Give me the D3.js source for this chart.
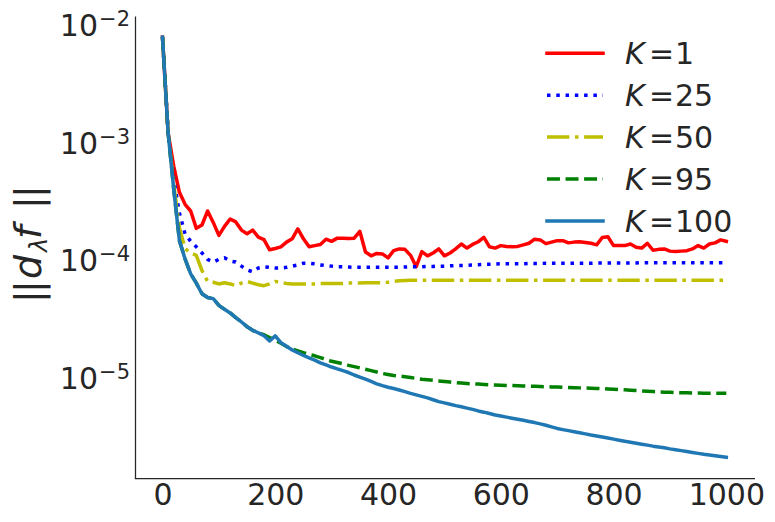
<!DOCTYPE html>
<html>
<head>
<meta charset="utf-8">
<script src="https://cdn.jsdelivr.net/npm/d3@7"></script>
<style>
  body { margin: 0; background: #fff; }
  svg { display: block; font-family: 'DejaVu Sans', sans-serif; }
</style>
</head>
<body>
<div id="chart"></div>
<script>
// iteration index (x)
const iterations = [
  0, 10, 20, 30, 40, 50, 60, 70, 80, 90,
  100, 110, 120, 130, 140, 150, 160, 170, 180, 190,
  200, 210, 220, 230, 240, 250, 260, 270, 280, 290,
  300, 310, 320, 330, 340, 350, 360, 370, 380, 390,
  400, 410, 420, 430, 440, 450, 460, 470, 480, 490,
  500, 510, 520, 530, 540, 550, 560, 570, 580, 590,
  600, 610, 620, 630, 640, 650, 660, 670, 680, 690,
  700, 710, 720, 730, 740, 750, 760, 770, 780, 790,
  800, 810, 820, 830, 840, 850, 860, 870, 880, 890,
  900, 910, 920, 930, 940, 950, 960, 970, 980, 990,
  1000
];

// ||d_lambda f|| per K
const normK1 = [
  7.5e-3, 1.15e-3, 6.0e-4, 3.6e-4, 2.85e-4, 2.5e-4, 1.78e-4, 1.9e-4, 2.5e-4, 2.0e-4,
  1.55e-4, 1.85e-4, 2.14e-4, 2.02e-4, 1.72e-4, 1.6e-4, 1.72e-4, 1.5e-4, 1.43e-4, 1.17e-4,
  1.2e-4, 1.24e-4, 1.36e-4, 1.45e-4, 1.76e-4, 1.45e-4, 1.24e-4, 1.27e-4, 1.3e-4, 1.44e-4,
  1.38e-4, 1.47e-4, 1.47e-4, 1.46e-4, 1.47e-4, 1.68e-4, 1.12e-4, 1.04e-4, 1.09e-4, 1.08e-4,
  1.0e-4, 1.15e-4, 1.19e-4, 1.18e-4, 1.05e-4, 8.4e-5, 1.13e-4, 1.04e-4, 1.1e-4, 1.19e-4,
  1.04e-4, 1.1e-4, 1.19e-4, 1.31e-4, 1.21e-4, 1.3e-4, 1.37e-4, 1.49e-4, 1.24e-4, 1.21e-4,
  1.27e-4, 1.25e-4, 1.24e-4, 1.25e-4, 1.29e-4, 1.33e-4, 1.44e-4, 1.42e-4, 1.32e-4, 1.36e-4,
  1.4e-4, 1.4e-4, 1.34e-4, 1.36e-4, 1.37e-4, 1.35e-4, 1.33e-4, 1.29e-4, 1.49e-4, 1.51e-4,
  1.27e-4, 1.27e-4, 1.27e-4, 1.31e-4, 1.23e-4, 1.21e-4, 1.33e-4, 1.16e-4, 1.18e-4, 1.19e-4,
  1.14e-4, 1.13e-4, 1.14e-4, 1.15e-4, 1.19e-4, 1.27e-4, 1.21e-4, 1.31e-4, 1.34e-4, 1.42e-4,
  1.38e-4
];
const normK25 = [
  7.5e-3, 1.15e-3, 4.6e-4, 2.4e-4, 1.6e-4, 1.38e-4, 1.24e-4, 1.1e-4, 9.7e-5, 9.2e-5,
  9.7e-5, 1.0e-4, 9.4e-5, 9.2e-5, 8.5e-5, 7.9e-5, 7.6e-5, 8.2e-5, 8.4e-5, 8.3e-5,
  8.2e-5, 8.2e-5, 8.3e-5, 8.5e-5, 8.7e-5, 9.0e-5, 9.0e-5, 8.9e-5, 8.7e-5, 8.6e-5,
  8.5e-5, 8.4e-5, 8.4e-5, 8.35e-5, 8.3e-5, 8.3e-5, 8.3e-5, 8.3e-5, 8.3e-5, 8.3e-5,
  8.3e-5, 8.3e-5, 8.3e-5, 8.35e-5, 8.4e-5, 8.4e-5, 8.4e-5, 8.45e-5, 8.45e-5, 8.5e-5,
  8.5e-5, 8.55e-5, 8.6e-5, 8.6e-5, 8.65e-5, 8.7e-5, 8.75e-5, 8.8e-5, 8.8e-5, 8.85e-5,
  8.9e-5, 8.9e-5, 8.9e-5, 8.9e-5, 8.9e-5, 8.95e-5, 8.95e-5, 8.95e-5, 9.0e-5, 9.0e-5,
  9.0e-5, 9.0e-5, 9.0e-5, 9.0e-5, 9.0e-5, 9.0e-5, 9.0e-5, 9.05e-5, 9.05e-5, 9.05e-5,
  9.05e-5, 9.05e-5, 9.05e-5, 9.05e-5, 9.05e-5, 9.1e-5, 9.1e-5, 9.1e-5, 9.1e-5, 9.1e-5,
  9.1e-5, 9.1e-5, 9.1e-5, 9.1e-5, 9.1e-5, 9.1e-5, 9.1e-5, 9.1e-5, 9.1e-5, 9.1e-5,
  9.1e-5
];
const normK50 = [
  7.5e-3, 1.15e-3, 4.2e-4, 1.8e-4, 1.2e-4, 1.1e-4, 1.05e-4, 7.8e-5, 6.3e-5, 6.2e-5,
  6.0e-5, 6.15e-5, 6.0e-5, 5.8e-5, 6.1e-5, 6.3e-5, 6.1e-5, 5.9e-5, 5.8e-5, 6.0e-5,
  6.3e-5, 6.2e-5, 6.05e-5, 6.0e-5, 6.0e-5, 6.0e-5, 6.0e-5, 6.0e-5, 6.05e-5, 6.05e-5,
  6.05e-5, 6.05e-5, 6.05e-5, 6.1e-5, 6.1e-5, 6.1e-5, 6.15e-5, 6.15e-5, 6.15e-5, 6.15e-5,
  6.2e-5, 6.3e-5, 6.38e-5, 6.42e-5, 6.45e-5, 6.45e-5, 6.45e-5, 6.45e-5, 6.45e-5, 6.45e-5,
  6.45e-5, 6.45e-5, 6.45e-5, 6.45e-5, 6.45e-5, 6.45e-5, 6.45e-5, 6.45e-5, 6.45e-5, 6.45e-5,
  6.45e-5, 6.45e-5, 6.45e-5, 6.45e-5, 6.45e-5, 6.45e-5, 6.45e-5, 6.45e-5, 6.45e-5, 6.45e-5,
  6.45e-5, 6.45e-5, 6.45e-5, 6.45e-5, 6.45e-5, 6.45e-5, 6.45e-5, 6.45e-5, 6.45e-5, 6.45e-5,
  6.45e-5, 6.45e-5, 6.45e-5, 6.45e-5, 6.45e-5, 6.45e-5, 6.45e-5, 6.45e-5, 6.45e-5, 6.45e-5,
  6.45e-5, 6.45e-5, 6.45e-5, 6.45e-5, 6.45e-5, 6.45e-5, 6.45e-5, 6.45e-5, 6.45e-5, 6.45e-5,
  6.45e-5
];
const normK95 = [
  7.5e-3, 1.15e-3, 3.8e-4, 1.4e-4, 9.8e-5, 7.3e-5, 6.1e-5, 4.95e-5, 4.6e-5, 4.5e-5,
  3.95e-5, 3.65e-5, 3.4e-5, 3.1e-5, 2.85e-5, 2.6e-5, 2.42e-5, 2.3e-5, 2.22e-5, 2.1e-5,
  2.0e-5, 1.88e-5, 1.76e-5, 1.68e-5, 1.62e-5, 1.56e-5, 1.51e-5, 1.47e-5, 1.42e-5, 1.37e-5,
  1.32e-5, 1.29e-5, 1.26e-5, 1.22e-5, 1.19e-5, 1.16e-5, 1.13e-5, 1.1e-5, 1.07e-5, 1.04e-5,
  1.02e-5, 1.0e-5, 9.9e-6, 9.75e-6, 9.6e-6, 9.45e-6, 9.3e-6, 9.2e-6, 9.1e-6, 9.0e-6,
  8.9e-6, 8.8e-6, 8.7e-6, 8.62e-6, 8.55e-6, 8.5e-6, 8.45e-6, 8.4e-6, 8.35e-6, 8.3e-6,
  8.27e-6, 8.24e-6, 8.21e-6, 8.18e-6, 8.15e-6, 8.12e-6, 8.09e-6, 8.06e-6, 8.03e-6, 8.0e-6,
  7.97e-6, 7.94e-6, 7.91e-6, 7.88e-6, 7.85e-6, 7.82e-6, 7.79e-6, 7.76e-6, 7.72e-6, 7.68e-6,
  7.64e-6, 7.6e-6, 7.55e-6, 7.5e-6, 7.45e-6, 7.4e-6, 7.35e-6, 7.3e-6, 7.26e-6, 7.22e-6,
  7.19e-6, 7.16e-6, 7.14e-6, 7.12e-6, 7.1e-6, 7.09e-6, 7.08e-6, 7.07e-6, 7.06e-6, 7.06e-6,
  7.05e-6
];
const normK100 = [
  7.5e-3, 1.15e-3, 3.8e-4, 1.4e-4, 9.8e-5, 7.3e-5, 6.1e-5, 4.95e-5, 4.6e-5, 4.5e-5,
  3.95e-5, 3.65e-5, 3.4e-5, 3.1e-5, 2.85e-5, 2.6e-5, 2.42e-5, 2.3e-5, 2.18e-5, 1.97e-5,
  2.17e-5, 1.9e-5, 1.77e-5, 1.65e-5, 1.56e-5, 1.48e-5, 1.41e-5, 1.35e-5, 1.28e-5, 1.23e-5,
  1.18e-5, 1.14e-5, 1.1e-5, 1.06e-5, 1.01e-5, 9.7e-6, 9.3e-6, 8.9e-6, 8.5e-6, 8.2e-6,
  7.95e-6, 7.75e-6, 7.53e-6, 7.3e-6, 7.05e-6, 6.85e-6, 6.65e-6, 6.45e-6, 6.22e-6, 6.0e-6,
  5.85e-6, 5.7e-6, 5.55e-6, 5.42e-6, 5.28e-6, 5.15e-6, 5.0e-6, 4.88e-6, 4.75e-6, 4.62e-6,
  4.52e-6, 4.43e-6, 4.34e-6, 4.25e-6, 4.16e-6, 4.07e-6, 3.98e-6, 3.88e-6, 3.78e-6, 3.66e-6,
  3.55e-6, 3.47e-6, 3.4e-6, 3.33e-6, 3.26e-6, 3.19e-6, 3.12e-6, 3.06e-6, 3.0e-6, 2.94e-6,
  2.88e-6, 2.82e-6, 2.76e-6, 2.71e-6, 2.66e-6, 2.61e-6, 2.56e-6, 2.51e-6, 2.47e-6, 2.43e-6,
  2.38e-6, 2.34e-6, 2.3e-6, 2.26e-6, 2.22e-6, 2.18e-6, 2.14e-6, 2.11e-6, 2.08e-6, 2.05e-6,
  2.02e-6
];

const kLabels = ['1', '25', '50', '95', '100'];
const xTicks = [0, 200, 400, 600, 800, 1000];
const yTickExps = [-2, -3, -4, -5];

// line styles (matplotlib 'r-', 'b:', 'y-.', 'g--', C0 '-')
const lw = 3.5;
const styles = [
  { color: '#ff0000', dash: null },
  { color: '#0000ff', dash: [1 * lw, 1.65 * lw] },
  { color: '#bfbf00', dash: [6.4 * lw, 1.6 * lw, 1 * lw, 1.6 * lw] },
  { color: '#008000', dash: [3.7 * lw, 1.6 * lw] },
  { color: '#1f77b4', dash: null },
];
const seriesValues = [normK1, normK25, normK50, normK95, normK100];

const width = 775;
const height = 522;
const textColor = '#262626';

function drawChart() {
  const svg = d3.select('#chart').append('svg').attr('width', width).attr('height', height);

  const x = d3.scaleLinear().domain([-50, 1050]).range([134.3, 754.5]);
  const y = d3.scaleLog().domain([Math.pow(10, -5.871), Math.pow(10, -1.945)]).range([478, 16]);

  // lines
  const line = d3
    .line()
    .x((d) => x(d[0]))
    .y((d) => y(d[1]));

  const plot = svg.append('g');
  seriesValues.forEach((vals, i) => {
    const st = styles[i];
    plot
      .append('path')
      .datum(iterations.map((it, j) => [it, vals[j]]))
      .attr('d', line)
      .attr('fill', 'none')
      .attr('stroke', st.color)
      .attr('stroke-width', lw)
      .attr('stroke-linejoin', 'round')
      .attr('stroke-linecap', st.dash ? 'butt' : 'square')
      .attr('stroke-dasharray', st.dash ? st.dash.join(',') : null);
  });

  // x axis
  const xAxis = svg
    .append('g')
    .attr('transform', `translate(0,${478})`)
    .call(d3.axisBottom(x).tickValues(xTicks).tickFormat(d3.format('d')).tickSize(0).tickSizeOuter(0));
  xAxis.select('.domain').attr('stroke', textColor).attr('stroke-width', 1.25);
  xAxis
    .selectAll('text')
    .attr('y', 27)
    .attr('dy', null)
    .attr('fill', textColor)
    .style('font-size', '30px')
    .style('font-family', "'DejaVu Sans', sans-serif");

  // y axis
  const yAxis = svg
    .append('g')
    .attr('transform', `translate(${135},0)`)
    .call(
      d3
        .axisLeft(y)
        .tickValues(yTickExps.map((e) => Math.pow(10, e)))
        .tickSize(0)
        .tickSizeOuter(0)
        .tickFormat('')
    );
  yAxis.select('.domain').attr('stroke', textColor).attr('stroke-width', 1.25);
  yAxis.selectAll('.tick text').each(function (d, i) {
    const t = d3
      .select(this)
      .attr('x', -5)
      .attr('y', 13)
      .attr('dy', null)
      .attr('fill', textColor)
      .attr('text-anchor', 'end')
      .style('font-family', "'DejaVu Sans', sans-serif");
    t.append('tspan').style('font-size', '30px').text('10');
    t.append('tspan')
      .attr('dy', -10)
      .attr('dx', 1)
      .style('font-size', '21px')
      .text('\u2212' + Math.abs(yTickExps[i]));
  });

  // y label ||d_lambda f||  (rotated: u runs upward, screen y = -u)
  const ylab = svg
    .append('text')
    .attr('transform', 'translate(41,0) rotate(-90)')
    .attr('fill', textColor)
    .style('font-size', '38px');
  ylab.append('tspan').attr('x', -303).text('|');
  ylab.append('tspan').attr('x', -293).text('|');
  ylab.append('tspan').attr('x', -279).attr('font-style', 'italic').text('d');
  ylab.append('tspan').attr('x', -252).attr('dy', 6).attr('font-style', 'italic').style('font-size', '24px').text('\u03bb');
  ylab.append('tspan').attr('x', -239).attr('dy', -6).attr('font-style', 'italic').text('f');
  ylab.append('tspan').attr('x', -209).text('|');
  ylab.append('tspan').attr('x', -198).text('|');

  // legend
  const legend = svg.append('g');
  kLabels.forEach((k, i) => {
    const st = styles[i];
    const cy = 53.3 + i * 41.9;
    legend
      .append('line')
      .attr('x1', 547)
      .attr('x2', 603)
      .attr('y1', cy)
      .attr('y2', cy)
      .attr('stroke', st.color)
      .attr('stroke-width', lw)
      .attr('stroke-linecap', st.dash ? 'butt' : 'square')
      .attr('stroke-dasharray', st.dash ? st.dash.join(',') : null);
    const t = legend
      .append('text')
      .attr('y', cy + 11)
      .attr('fill', textColor)
      .style('font-size', '30px');
    t.append('tspan').attr('x', 625).attr('font-style', 'italic').text('K');
    t.append('tspan').attr('x', 649).text('=');
    t.append('tspan').attr('x', 675).text(k);
  });
}

document.addEventListener('DOMContentLoaded', drawChart);
</script>
</body>
</html>
